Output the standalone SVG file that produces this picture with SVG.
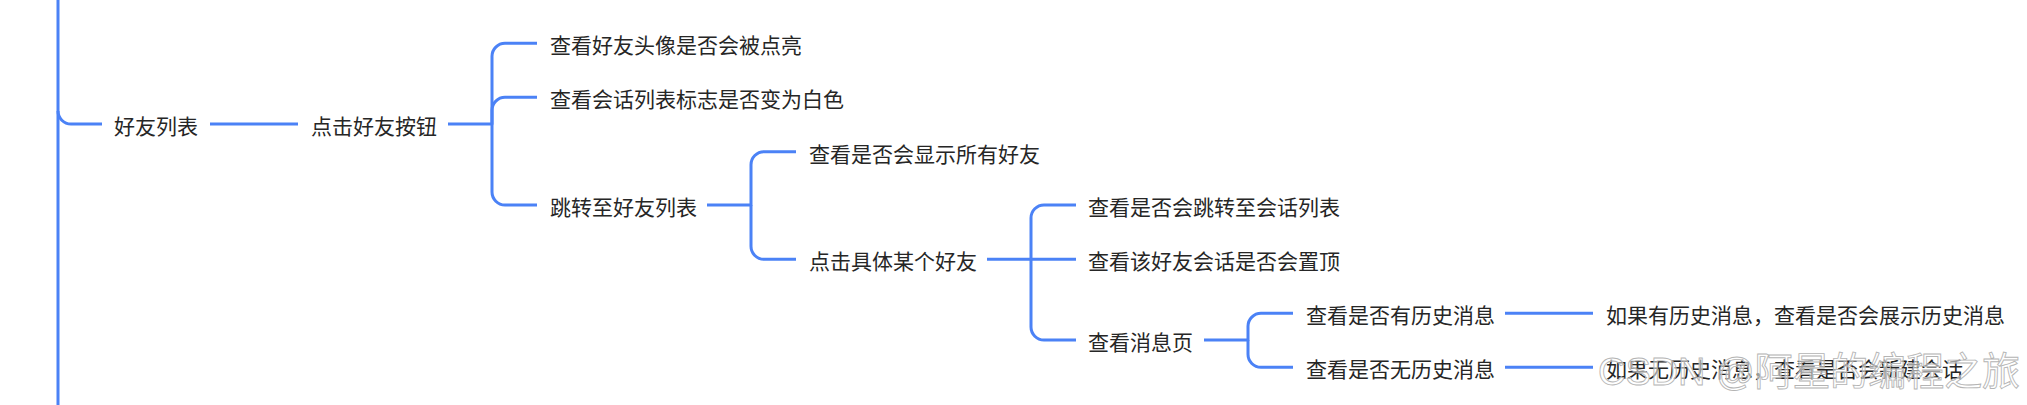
<svg xmlns="http://www.w3.org/2000/svg" width="2027" height="405" viewBox="0 0 2027 405">
<style>
.c{fill:none;stroke:#4b82f6;stroke-width:3;stroke-linecap:butt;stroke-linejoin:round}
.t{font-family:"Noto Sans CJK SC","Noto Sans",sans-serif;font-size:21px;fill:#262626}
.wm{font-family:"Liberation Sans","Noto Sans CJK SC",sans-serif;font-size:39px;fill:#ffffff;fill-opacity:0.55;stroke:#b4b4b4;stroke-width:0.9}
</style>
<rect width="2027" height="405" fill="#ffffff"/>
<g id="connectors">
<path class="c" d="M58,0 V405"/>
<path class="c" d="M58,111 A13,13 0 0 0 71,124 H102"/>
<path class="c" d="M210,124 H298"/>
<path class="c" d="M448,124 H492 V56.3 A13,13 0 0 1 505,43.3 H537"/>
<path class="c" d="M492,124 V110.3 A13,13 0 0 1 505,97.3 H537"/>
<path class="c" d="M492,124 V192 A13,13 0 0 0 505,205 H537"/>
<path class="c" d="M707,205 H751 V164.7 A13,13 0 0 1 764,151.7 H796"/>
<path class="c" d="M751,205 V246.3 A13,13 0 0 0 764,259.3 H796"/>
<path class="c" d="M987,259.3 H1031 V218 A13,13 0 0 1 1044,205 H1076"/>
<path class="c" d="M1031,259.3 H1076"/>
<path class="c" d="M1031,259.3 V327 A13,13 0 0 0 1044,340 H1076"/>
<path class="c" d="M1204,340 H1248 V326.3 A13,13 0 0 1 1261,313.3 H1293"/>
<path class="c" d="M1248,340 V354.3 A13,13 0 0 0 1261,367.3 H1293"/>
<path class="c" d="M1505,313.3 H1593"/>
<path class="c" d="M1505,367.3 H1593"/>
</g>
<g id="n-haoyouliebiao"><text class="t" x="114" y="133.5">好友列表</text></g>
<g id="n-dianjihaoyouanniu"><text class="t" x="311" y="133.5">点击好友按钮</text></g>
<g id="n-touxiang"><text class="t" x="550" y="53">查看好友头像是否会被点亮</text></g>
<g id="n-biaozhi"><text class="t" x="550" y="107">查看会话列表标志是否变为白色</text></g>
<g id="n-tiaozhuan"><text class="t" x="550" y="214.5">跳转至好友列表</text></g>
<g id="n-xianshi"><text class="t" x="809" y="161.5">查看是否会显示所有好友</text></g>
<g id="n-juti"><text class="t" x="809" y="269">点击具体某个好友</text></g>
<g id="n-tiaozhuanhuihua"><text class="t" x="1088" y="214.5">查看是否会跳转至会话列表</text></g>
<g id="n-zhiding"><text class="t" x="1088" y="269">查看该好友会话是否会置顶</text></g>
<g id="n-xiaoxiye"><text class="t" x="1088" y="349.5">查看消息页</text></g>
<g id="n-youlishi"><text class="t" x="1306" y="323">查看是否有历史消息</text></g>
<g id="n-wulishi"><text class="t" x="1306" y="377">查看是否无历史消息</text></g>
<g id="n-zhanshi"><text class="t" x="1606" y="323">如果有历史消息，查看是否会展示历史消息</text></g>
<g id="n-xinjian"><text class="t" x="1606" y="377">如果无历史消息，查看是否会新建会话</text></g>
<g id="watermark"><text class="wm" x="1598" y="385" textLength="422" lengthAdjust="spacingAndGlyphs">CSDN @阿星的编程之旅</text></g>
</svg>
